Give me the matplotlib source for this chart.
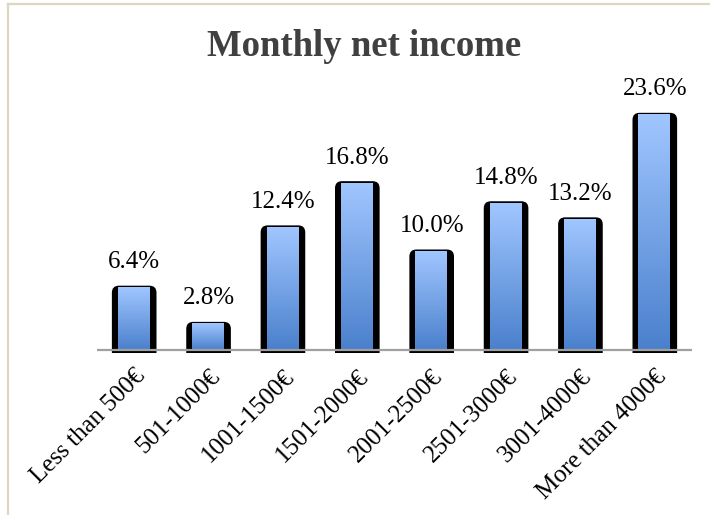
import numpy as np
import matplotlib
matplotlib.use("Agg")
import matplotlib.pyplot as plt
from matplotlib.patches import FancyBboxPatch
from matplotlib.lines import Line2D
from matplotlib.colors import LinearSegmentedColormap

categories = ["Less than 500€", "501-1000€", "1001-1500€", "1501-2000€",
              "2001-2500€", "2501-3000€", "3001-4000€", "More than 4000€"]
values = [6.4, 2.8, 12.4, 16.8, 10.0, 14.8, 13.2, 23.6]
title = "Monthly net income"

W, H = 710, 515
fig = plt.figure(figsize=(W / 100, H / 100), dpi=100)
fig.patch.set_facecolor("white")

ax_left, ax_right = 97, 692
base_y = 350
px_per_unit = 10.05
ymax = 25.0
ymin = -0.3
ax = fig.add_axes([ax_left / W, (H - base_y - (-ymin) * px_per_unit) / H,
                   (ax_right - ax_left) / W, (ymax - ymin) * px_per_unit / H])
for s in ax.spines.values():
    s.set_visible(False)
ax.set_yticks([])
ax.tick_params(axis="x", length=0, pad=9)

x_px_per_unit = (ax_right - ax_left) / len(categories)
aspect = x_px_per_unit / px_per_unit

cmap = LinearSegmentedColormap.from_list("g", ["#4a80cc", "#a0c6ff"])
grad = np.linspace(0, 1, 256).reshape(-1, 1)

bw = 0.6
iw = 0.43
for i, v in enumerate(values):
    r = 7 / x_px_per_unit
    p = FancyBboxPatch((i - bw / 2, -1.0), bw, v + 1.0,
                       boxstyle=f"round,pad=0,rounding_size={r}",
                       mutation_aspect=aspect,
                       facecolor="black", edgecolor="none", zorder=2)
    ax.add_patch(p)
    ax.imshow(grad, extent=[i - iw / 2 - 0.005, i + iw / 2 - 0.005, 0, v - 0.2],
              origin="lower", cmap=cmap, aspect="auto", zorder=3,
              interpolation="bicubic")
    ax.annotate(f"{v:.1f}%", (i, v), xytext=(0, 9), textcoords="offset points",
                ha="center", va="bottom", fontsize=18,
                family="Liberation Serif", color="black")

ax.set_xlim(-0.5, len(categories) - 0.5)
ax.set_ylim(ymin, ymax)
ax.axhline(0, color="#a0a0a0", lw=1.6, zorder=4)

ax.set_xticks(range(len(categories)))
ax.set_xticklabels(categories, rotation=45, ha="right", rotation_mode="anchor",
                   fontsize=18, family="Liberation Serif")

fig.text(364 / W, 1 - 47 / H, title, ha="center", va="center",
         fontsize=26.5, fontweight="bold", family="Liberation Serif",
         color="#404040")

# frame lines
fig.add_artist(Line2D([8 / W, 8 / W], [0, 1 - 4 / H], transform=fig.transFigure,
                      color="#dcd8c0", lw=1.6))
fig.add_artist(Line2D([8 / W, 1], [1 - 4 / H, 1 - 4 / H], transform=fig.transFigure,
                      color="#dcd8c0", lw=1.6))

fig.savefig("out.png", dpi=100, facecolor="white")
